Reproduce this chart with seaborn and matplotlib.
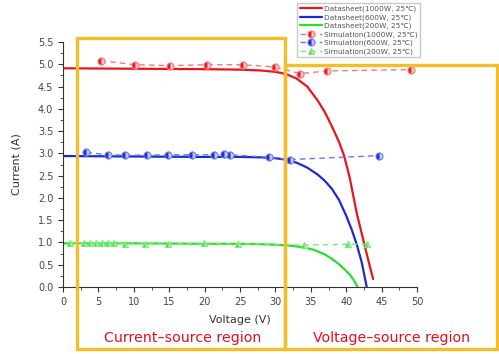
import matplotlib
matplotlib.use("Agg")
import matplotlib.pyplot as plt
from matplotlib.patches import Rectangle
from matplotlib.ticker import MultipleLocator
import seaborn as sns
import pandas as pd

sns.set_style("ticks")
plt.rcParams['font.family'] = ['DejaVu Sans', 'Noto Sans CJK SC']

# Datasheet curves
ds1000_v = [0, 10, 20, 25, 28, 30, 31.5, 33, 34.5, 36, 37, 38, 39, 39.7, 40.5, 41.5, 42.5, 43.2, 43.8]
ds1000_i = [4.91, 4.90, 4.89, 4.88, 4.86, 4.83, 4.78, 4.68, 4.50, 4.18, 3.92, 3.6, 3.25, 2.95, 2.45, 1.65, 1.0, 0.55, 0.18]
ds600_v = [0, 10, 20, 25, 28, 30, 31.5, 33, 34.5, 36, 37, 38, 39, 40, 40.8, 41.5, 42.2, 42.9]
ds600_i = [2.94, 2.93, 2.92, 2.92, 2.91, 2.89, 2.86, 2.79, 2.68, 2.52, 2.38, 2.2, 1.95, 1.6, 1.28, 0.95, 0.55, 0.0]
ds200_v = [0, 10, 20, 25, 28, 30, 32, 34, 35.5, 37, 38, 39, 39.8, 40.5, 41.1, 41.6]
ds200_i = [0.98, 0.98, 0.97, 0.97, 0.96, 0.95, 0.93, 0.89, 0.83, 0.73, 0.63, 0.51, 0.39, 0.28, 0.15, 0.0]

# Simulation points
sim1000_v = [5.3, 10.2, 15.1, 20.3, 25.4, 29.9, 33.5, 37.3, 49.1]
sim1000_i = [5.08, 4.99, 4.97, 4.99, 4.99, 4.94, 4.79, 4.85, 4.88]
sim600_v = [3.3, 6.3, 8.8, 11.9, 14.9, 18.2, 21.3, 22.7, 23.6, 29.1, 32.0, 44.6]
sim600_i = [3.02, 2.97, 2.96, 2.96, 2.97, 2.97, 2.97, 2.98, 2.97, 2.91, 2.86, 2.95]
sim200_v = [1.0, 3.0, 3.8, 4.7, 5.5, 6.4, 7.2, 8.8, 11.6, 14.9, 19.9, 24.7, 34.0, 40.3, 43.0]
sim200_i = [0.99, 0.98, 0.98, 0.98, 0.98, 0.98, 0.98, 0.97, 0.97, 0.97, 0.98, 0.97, 0.94, 0.96, 0.96]

labels_ds = ["Datasheet(1000W, 25\u2103)", "Datasheet(600W, 25\u2103)", "Datasheet(200W, 25\u2103)"]
labels_sim = ["Simulation(1000W, 25\u2103)", "Simulation(600W, 25\u2103)", "Simulation(200W, 25\u2103)"]
region_labels = ["Current\u2013source region", "Voltage\u2013source region"]

W, H = 499, 354
fig = plt.figure(figsize=(W / 100, H / 100), dpi=100)
ax = fig.add_axes([63 / W, (H - 287) / H, 354 / W, 245 / H])

dark = ["#E8141E", "#1A2BD0", "#2EDC2E"]
light = ["#F07A7A", "#6A78E8", "#7AEA7A"]
alt = ["#F8C8C8", "#C8CCF4", "#C8F4C8"]

for v, i, c, lab in zip([ds1000_v, ds600_v, ds200_v], [ds1000_i, ds600_i, ds200_i], dark, labels_ds):
    df = pd.DataFrame({"V": v, "I": i})
    sns.lineplot(data=df, x="V", y="I", ax=ax, color=c, lw=1.6, label=lab, sort=False)

markers = ["o", "o", "^"]
for v, i, c, lc, a, m, lab in zip([sim1000_v, sim600_v, sim200_v], [sim1000_i, sim600_i, sim200_i],
                                  dark, light, alt, markers, labels_sim):
    df = pd.DataFrame({"V": v, "I": i})
    sns.lineplot(data=df, x="V", y="I", ax=ax, color=lc, lw=1.0, linestyle=(0, (4, 3)),
                 marker=m, markersize=5, fillstyle="left", markerfacecolor=c,
                 markerfacecoloralt=a, markeredgecolor=lc, markeredgewidth=0.8,
                 label=lab, sort=False)

ax.set_xlim(0, 50)
ax.set_ylim(0, 5.5)
ax.xaxis.set_major_locator(MultipleLocator(5))
ax.xaxis.set_minor_locator(MultipleLocator(2.5))
ax.yaxis.set_major_locator(MultipleLocator(0.5))
ax.yaxis.set_minor_locator(MultipleLocator(0.25))
ax.tick_params(which="major", length=3.5, width=0.8, labelsize=7, colors="#333333", labelcolor="#444444")
ax.tick_params(which="minor", length=2, width=0.6, colors="#333333")
ax.set_xticks([0, 5, 10, 15, 20, 25, 30, 35, 40, 45, 50])
ax.set_xticklabels(["0", "5", "10", "15", "20", "25", "30", "35", "40", "45", "50"])
ax.set_yticks([k * 0.5 for k in range(12)])
ax.set_yticklabels([f"{k * 0.5:.1f}" for k in range(12)])
sns.despine(ax=ax)
for s in ["left", "bottom"]:
    ax.spines[s].set_color("#333333")
    ax.spines[s].set_linewidth(0.8)
ax.set_xlabel("Voltage (V)", fontsize=8, color="#333333", labelpad=6)
ax.set_ylabel("Current (A)", fontsize=8, color="#333333", labelpad=12)

handles, labs = ax.get_legend_handles_labels()
ax.legend_.remove()
leg = fig.legend(handles, labs, loc="upper left", bbox_to_anchor=(297 / W, 1 - 3 / H),
                 fontsize=5.3, frameon=True, fancybox=False, edgecolor="#BBBBBB",
                 handlelength=3.0, handletextpad=0.3, labelspacing=0.25, borderpad=0.35,
                 borderaxespad=0)
for t in leg.get_texts():
    t.set_color("#555555")

gold = "#F4BE2A"
fig.patches.append(Rectangle((77 / W, 5 / H), 208 / W, 311 / H, transform=fig.transFigure,
                             fill=False, edgecolor=gold, lw=2.4, zorder=10))
fig.patches.append(Rectangle((285 / W, 5 / H), 212 / W, 284 / H, transform=fig.transFigure,
                             fill=False, edgecolor=gold, lw=2.4, zorder=10))

fig.text(183 / W, 1 - 338 / H, region_labels[0], color="#E0101E", fontsize=10.2,
         ha="center", va="center")
fig.text(392 / W, 1 - 338 / H, region_labels[1], color="#E0101E", fontsize=10.2,
         ha="center", va="center")

fig.savefig("out.png", dpi=100)
